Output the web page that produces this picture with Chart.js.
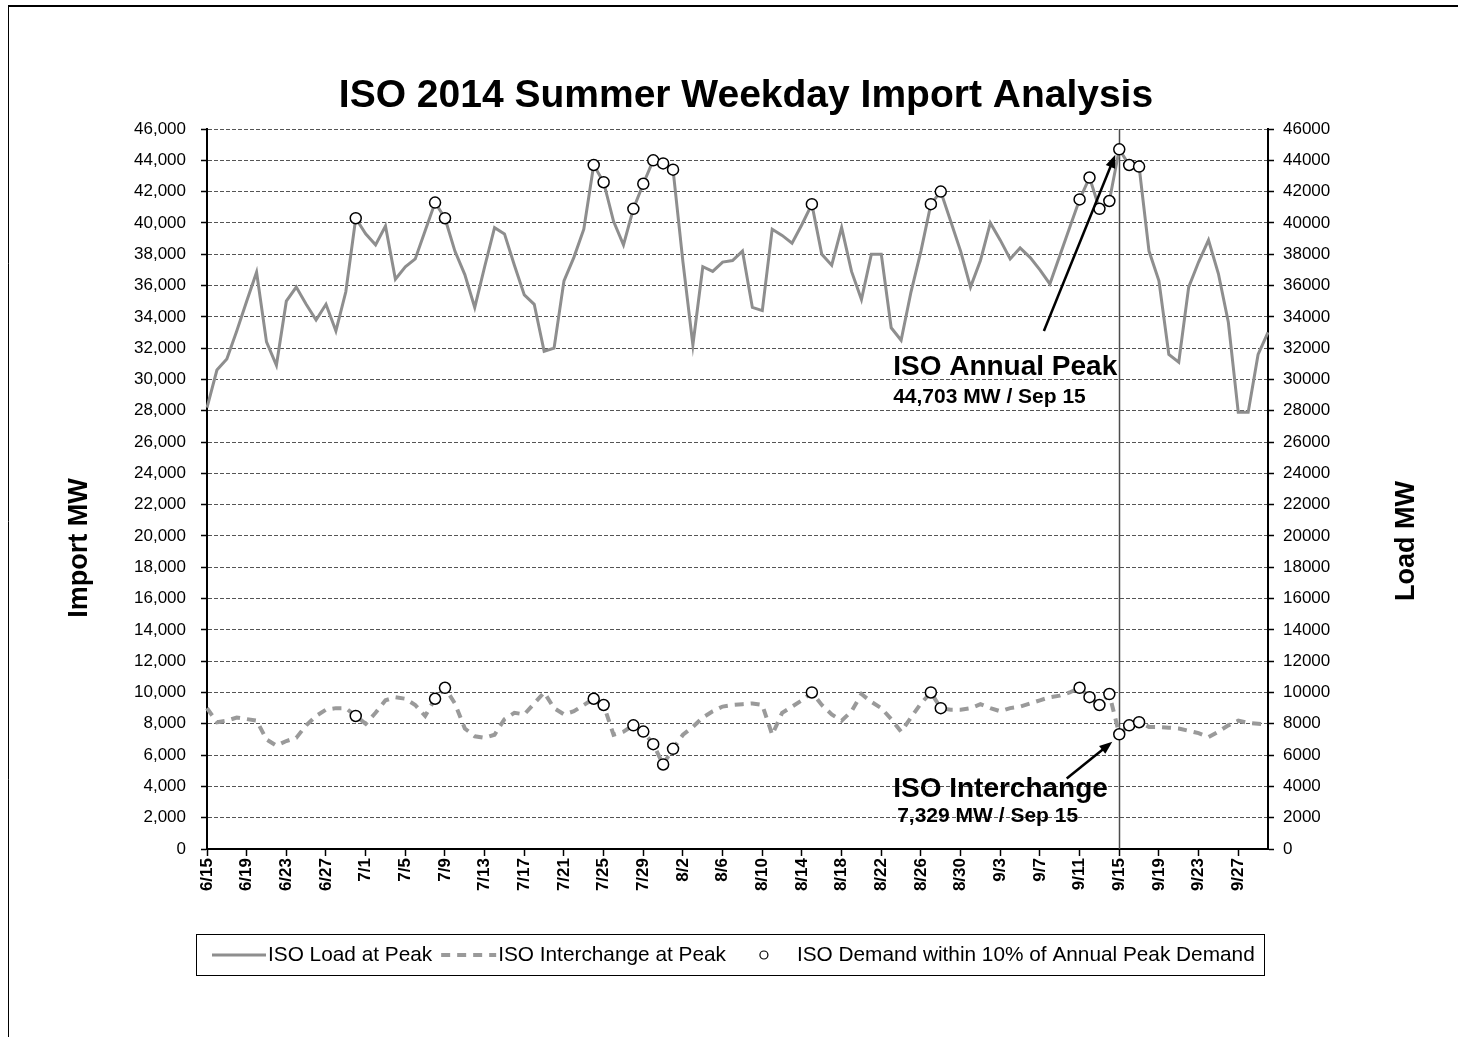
<!DOCTYPE html>
<html>
<head>
<meta charset="utf-8">
<title>ISO 2014 Summer Weekday Import Analysis</title>
<script src="https://cdn.jsdelivr.net/npm/chart.js@4.4.1/dist/chart.umd.min.js"></script>
<style>
  html, body { margin: 0; padding: 0; background: #fff; }
  #wrap { position: relative; width: 1458px; height: 1037px; }
  canvas { display: block; }
</style>
</head>
<body>
<div id="wrap"><canvas id="chart" width="1458" height="1037"></canvas></div>
<script>
// Daily dates, 15 June to 30 September 2014
const dates = [
  '6/15','6/16','6/17','6/18','6/19','6/20','6/21','6/22','6/23','6/24','6/25','6/26','6/27','6/28','6/29','6/30',
  '7/1','7/2','7/3','7/4','7/5','7/6','7/7','7/8','7/9','7/10','7/11','7/12','7/13','7/14','7/15','7/16',
  '7/17','7/18','7/19','7/20','7/21','7/22','7/23','7/24','7/25','7/26','7/27','7/28','7/29','7/30','7/31',
  '8/1','8/2','8/3','8/4','8/5','8/6','8/7','8/8','8/9','8/10','8/11','8/12','8/13','8/14','8/15','8/16',
  '8/17','8/18','8/19','8/20','8/21','8/22','8/23','8/24','8/25','8/26','8/27','8/28','8/29','8/30','8/31',
  '9/1','9/2','9/3','9/4','9/5','9/6','9/7','9/8','9/9','9/10','9/11','9/12','9/13','9/14','9/15','9/16',
  '9/17','9/18','9/19','9/20','9/21','9/22','9/23','9/24','9/25','9/26','9/27','9/28','9/29','9/30'
];

// ISO load at the daily peak hour (MW)
const loadMW = [
  28200, 30600, 31300, 33100, 35000, 36850, 32400, 30900, 35000, 35900, 34800, 33800, 34800, 33100, 35600, 40300,
  39300, 38600, 39800, 36400, 37200, 37700, 39500, 41300, 40300, 38200, 36700, 34600, 37200, 39700, 39300, 37300,
  35400, 34800, 31800, 32000, 36300, 37800, 39600, 43700, 42600, 40100, 38600, 40900, 42500, 44000, 43800, 43400,
  37500, 32200, 37200, 36900, 37500, 37600, 38200, 34600, 34400, 39600, 39200, 38700, 39900, 41200, 38000, 37300,
  39700, 36900, 35100, 38000, 38000, 33300, 32500, 35600, 38200, 41200, 42000, 40100, 38200, 35900, 37600, 40000,
  38900, 37700, 38400, 37800, 37000, 36100, 37900, 39700, 41500, 42900, 40900, 41400, 44703, 43700, 43600, 38200,
  36300, 31600, 31100, 35900, 37500, 38900, 36750, 33650, 27900, 27900, 31600, 33000
];

// ISO net interchange (imports) at the daily peak hour (MW)
const interchangeMW = [
  9000, 8100, 8200, 8400, 8300, 8200, 7000, 6600, 6900, 7100, 7900, 8500, 8900, 9000, 9000, 8500,
  8000, 8700, 9500, 9700, 9600, 9200, 8500, 9600, 10300, 9300, 7700, 7200, 7100, 7300, 8300, 8700,
  8600, 9300, 10000, 9000, 8600, 8800, 9200, 9600, 9200, 7300, 7500, 7900, 7500, 6700, 5400, 6400,
  7300, 7800, 8400, 8800, 9100, 9200, 9250, 9300, 9200, 7300, 8700, 9100, 9500, 10000, 9200, 8600,
  8200, 8800, 9900, 9400, 9000, 8300, 7500, 8400, 9300, 10000, 9000, 8900, 8900, 9000, 9250, 9000,
  8800, 9000, 9100, 9300, 9500, 9700, 9800, 10000, 10300, 9700, 9200, 9900, 7329, 7900, 8100, 7800,
  7800, 7750, 7700, 7550, 7400, 7150, 7500, 7900, 8200, 8050, 8000, 7950
];

const seriesNames = ['ISO Load at Peak', 'ISO Interchange at Peak', 'ISO Demand within 10% of Annual Peak Demand'];

// Days whose load is within 10% of the annual peak
const annualPeak = Math.max(...loadMW);
const peakIndex = loadMW.indexOf(annualPeak);
const nearPeak = loadMW.map(v => v >= 0.9 * annualPeak);
const nearPeakLoad = loadMW.map((v, i) => nearPeak[i] ? v : null);
const nearPeakInterchange = interchangeMW.map((v, i) => nearPeak[i] ? v : null);

const FONT = "'Liberation Sans', Arial, Helvetica, sans-serif";
const fmtComma = v => Number(v).toLocaleString('en-US');

function drawArrow(ctx, x1, y1, x2, y2) {
  const a = Math.atan2(y2 - y1, x2 - x1);
  const head = 13, half = 5;
  ctx.beginPath();
  ctx.moveTo(x1, y1);
  ctx.lineTo(x2 - head * 0.7 * Math.cos(a), y2 - head * 0.7 * Math.sin(a));
  ctx.stroke();
  ctx.beginPath();
  ctx.moveTo(x2, y2);
  ctx.lineTo(x2 - head * Math.cos(a) + half * Math.sin(a), y2 - head * Math.sin(a) - half * Math.cos(a));
  ctx.lineTo(x2 - head * Math.cos(a) - half * Math.sin(a), y2 - head * Math.sin(a) + half * Math.cos(a));
  ctx.closePath();
  ctx.fill();
}

const decorations = {
  id: 'decorations',
  beforeDraw(chart) {
    const { ctx, width, height } = chart;
    ctx.save();
    ctx.fillStyle = '#fff';
    ctx.fillRect(0, 0, width, height);
    // page frame
    ctx.strokeStyle = '#000';
    ctx.lineWidth = 2;
    ctx.beginPath();
    ctx.moveTo(8, 6); ctx.lineTo(width, 6);
    ctx.stroke();
    ctx.lineWidth = 1;
    ctx.beginPath();
    ctx.moveTo(8.5, 6); ctx.lineTo(8.5, height);
    ctx.stroke();
    ctx.restore();
  },
  beforeDatasetsDraw(chart) {
    // vertical marker on the annual peak day
    const { ctx, chartArea, scales } = chart;
    const x = Math.round(scales.x.getPixelForValue(peakIndex)) + 0.5;
    ctx.save();
    ctx.strokeStyle = '#4d4d4d';
    ctx.lineWidth = 1.5;
    ctx.beginPath();
    ctx.moveTo(x, chartArea.top);
    ctx.lineTo(x, chartArea.bottom);
    ctx.stroke();
    ctx.restore();
  },
  afterDraw(chart) {
    const { ctx, scales } = chart;
    const xs = scales.x, yL = scales.yL, yR = scales.yR;
    const ds = chart.data.datasets;
    ctx.save();
    ctx.fillStyle = '#000';

    // title
    ctx.font = `bold 39px ${FONT}`;
    ctx.textAlign = 'center';
    ctx.textBaseline = 'alphabetic';
    ctx.fillText('ISO 2014 Summer Weekday Import Analysis', 746, 107);

    // axis titles
    ctx.font = `bold 27px ${FONT}`;
    ctx.textBaseline = 'middle';
    ctx.save();
    ctx.translate(80, 548);
    ctx.rotate(-Math.PI / 2);
    ctx.fillText('Import MW', 0, 0);
    ctx.restore();
    ctx.save();
    ctx.translate(1407, 541);
    ctx.rotate(-Math.PI / 2);
    ctx.fillText('Load MW', 0, 0);
    ctx.restore();

    // annotations
    ctx.strokeStyle = '#000';
    ctx.lineWidth = 2.5;
    drawArrow(ctx, xs.getPixelForValue(84.4), yR.getPixelForValue(33100),
                   xs.getPixelForValue(91.6), yR.getPixelForValue(44350));
    drawArrow(ctx, xs.getPixelForValue(86.7), yL.getPixelForValue(4500),
                   xs.getPixelForValue(91.3), yL.getPixelForValue(6850));

    ctx.textAlign = 'left';
    ctx.textBaseline = 'alphabetic';
    const tx = xs.getPixelForValue(69.2);
    ctx.font = `bold 28px ${FONT}`;
    ctx.fillText('ISO Annual Peak', tx, yR.getPixelForValue(30260));
    ctx.fillText('ISO Interchange', tx, yL.getPixelForValue(3300));
    ctx.font = `bold 21px ${FONT}`;
    ctx.fillText(fmtComma(annualPeak) + ' MW / ' + 'Sep 15', tx, yR.getPixelForValue(28480));
    ctx.fillText(fmtComma(interchangeMW[peakIndex]) + ' MW / ' + 'Sep 15', tx + 4, yL.getPixelForValue(1730));

    // legend
    const box = { x: 196.5, y: 934.5, w: 1068, h: 41 };
    ctx.lineWidth = 1;
    ctx.strokeRect(box.x, box.y, box.w, box.h);
    const cy = box.y + box.h / 2;
    ctx.font = `20.8px ${FONT}`;
    ctx.textBaseline = 'middle';
    let x = 212;
    // load line sample
    ctx.strokeStyle = ds[0].borderColor;
    ctx.lineWidth = ds[0].borderWidth;
    ctx.beginPath(); ctx.moveTo(x, cy); ctx.lineTo(x + 54, cy); ctx.stroke();
    x += 56;
    ctx.fillText(ds[0].label, x, cy);
    x += ctx.measureText(ds[0].label).width + 9;
    // interchange dashed sample
    ctx.strokeStyle = ds[1].borderColor;
    ctx.lineWidth = ds[1].borderWidth;
    ctx.setLineDash(ds[1].borderDash);
    ctx.beginPath(); ctx.moveTo(x, cy); ctx.lineTo(x + 55, cy); ctx.stroke();
    ctx.setLineDash([]);
    x += 57;
    ctx.fillText(ds[1].label, x, cy);
    x += ctx.measureText(ds[1].label).width + 38;
    // near-peak marker sample
    ctx.fillStyle = '#fff';
    ctx.strokeStyle = '#000';
    ctx.lineWidth = 1.2;
    ctx.beginPath(); ctx.arc(x, cy, 4, 0, Math.PI * 2); ctx.fill(); ctx.stroke();
    ctx.fillStyle = '#000';
    x += 33;
    ctx.fillText(ds[2].label, x, cy);
    ctx.restore();
  }
};

const markerStyle = {
  showLine: false,
  pointStyle: 'circle',
  pointRadius: 5.5,
  pointBackgroundColor: '#fff',
  pointBorderColor: '#000',
  pointBorderWidth: 1.5,
  order: 0
};

new Chart(document.getElementById('chart'), {
  type: 'line',
  data: {
    labels: dates,
    datasets: [
      {
        label: seriesNames[0], data: loadMW, yAxisID: 'yR',
        borderColor: '#8e8e8e', borderWidth: 3, pointRadius: 0, tension: 0, order: 2
      },
      {
        label: seriesNames[1], data: interchangeMW, yAxisID: 'yL',
        borderColor: '#9a9a9a', borderWidth: 4, borderDash: [9, 7], pointRadius: 0, tension: 0, order: 1
      },
      Object.assign({ label: seriesNames[2], data: nearPeakLoad, yAxisID: 'yR' }, markerStyle),
      Object.assign({ label: seriesNames[2], data: nearPeakInterchange, yAxisID: 'yL' }, markerStyle)
    ]
  },
  options: {
    responsive: false,
    animation: false,
    events: [],
    layout: { padding: { left: 60, right: 40, top: 129, bottom: 128 } },
    plugins: { legend: { display: false }, title: { display: false }, tooltip: { enabled: false } },
    scales: {
      x: {
        type: 'category',
        offset: false,
        grid: {
          drawOnChartArea: false,
          tickLength: 7,
          tickWidth: 1.5,
          tickColor: c => (c.index % 4 === 0 ? '#000' : 'rgba(0,0,0,0)')
        },
        border: { color: '#000', width: 2 },
        ticks: {
          autoSkip: false,
          minRotation: 90,
          maxRotation: 90,
          padding: 2,
          color: '#000',
          font: { family: FONT, size: 17, weight: 'bold' },
          callback: (v, i) => (i % 4 === 0 ? dates[i] : '')
        },
        afterFit: s => { s.height = 60; }
      },
      yL: {
        position: 'left',
        min: 0, max: 46000,
        grid: { color: '#555', lineWidth: 1, tickLength: 6, tickColor: '#000', tickWidth: 1.5 },
        border: { color: '#000', width: 2, dash: [4, 2] },
        ticks: {
          stepSize: 2000, padding: 15, color: '#000',
          font: { family: FONT, size: 17 },
          callback: v => fmtComma(v)
        },
        afterFit: s => { s.width = 147; }
      },
      yR: {
        position: 'right',
        min: 0, max: 46000,
        grid: { drawOnChartArea: false, tickLength: 6, tickColor: '#000', tickWidth: 1.5 },
        border: { color: '#000', width: 2 },
        ticks: {
          stepSize: 2000, padding: 9, color: '#000',
          font: { family: FONT, size: 17 },
          callback: v => String(v)
        },
        afterFit: s => { s.width = 150; }
      }
    }
  },
  plugins: [decorations]
});
</script>
</body>
</html>
